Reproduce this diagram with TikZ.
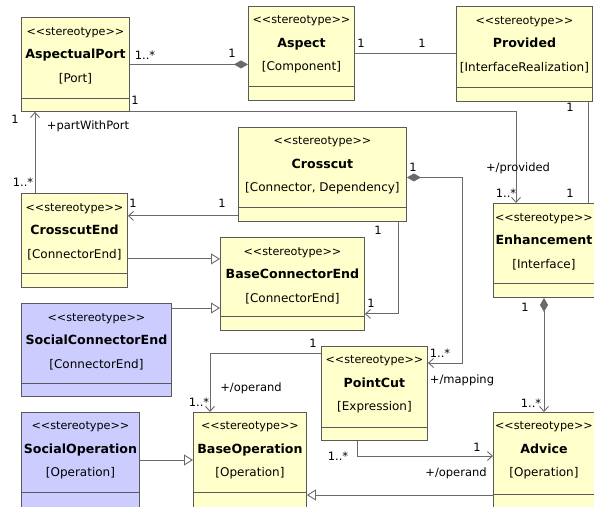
\documentclass[tikz,border=0pt]{standalone}
\usepackage{fontspec}
\setmainfont{DejaVu Sans}
\usetikzlibrary{arrows.meta}
\definecolor{clsyellow}{HTML}{FFFFCC}
\definecolor{clsblue}{HTML}{CCCCFF}
\definecolor{clsborder}{HTML}{5A5A5A}
\definecolor{linegray}{HTML}{6A6A6A}
\newcommand\stlabel{{\fontsize{11.2}{23.5}\selectfont\mbox{<}\mbox{<}stereotype\mbox{>}\mbox{>}}}
\newcommand\clsname[1]{{\fontsize{12.6}{23.5}\selectfont\bfseries #1}}

\begin{document}
\begin{tikzpicture}[x=1pt,y=-1pt,
  cls/.style={draw=clsborder,fill=clsyellow,line width=0.9pt,anchor=north west,inner sep=0pt},
  social/.style={cls,fill=clsblue},
  clstext/.style={align=center,inner sep=0pt,font=\fontsize{12}{23.5}\selectfont},
  sep/.style={draw=clsborder,line width=0.9pt},
  conn/.style={draw=linegray,line width=0.9pt},
  assoc/.style={conn,-{Straight Barb[length=5pt,width=9pt]}},
  gen/.style={conn,-{Triangle[length=9pt,width=11pt,fill=white]}},
  comp/.style={conn,{Diamond[length=14pt,width=8pt]}-},
  compassoc/.style={conn,{Diamond[length=14pt,width=8pt]}-{Straight Barb[length=5pt,width=9pt]}},
  lbl/.style={inner sep=0pt,font=\fontsize{11.5}{13}\selectfont}]
 \path[use as bounding box,clip] (0,0) rectangle (594,506);

 % classes
 \node[cls,minimum width=108,minimum height=94] (ap) at (21,17) {};
 \node[cls,minimum width=106,minimum height=94] (asp) at (248,6) {};
 \node[cls,minimum width=136,minimum height=95] (prov) at (456,6) {};
 \node[cls,minimum width=168,minimum height=94] (cc) at (238,127) {};
 \node[cls,minimum width=106,minimum height=94] (ce) at (21,193) {};
 \node[cls,minimum width=144,minimum height=93] (bce) at (220,237) {};
 \node[cls,minimum width=101,minimum height=94] (enh) at (493,203) {};
 \node[social,minimum width=150,minimum height=93] (sce) at (21,303) {};
 \node[cls,minimum width=106,minimum height=94] (pc) at (321,346) {};
 \node[cls,minimum width=113,minimum height=100] (bo) at (193,412) {};
 \node[social,minimum width=118,minimum height=100] (so) at (21,412) {};
 \node[cls,minimum width=101,minimum height=100] (adv) at (493,412) {};

 \draw[sep] ([yshift=-81]ap.north west) -- ([yshift=-81]ap.north east);
 \draw[sep] ([yshift=-80]asp.north west) -- ([yshift=-80]asp.north east);
 \draw[sep] ([yshift=-81]prov.north west) -- ([yshift=-81]prov.north east);
 \draw[sep] ([yshift=-80]cc.north west) -- ([yshift=-80]cc.north east);
 \draw[sep] ([yshift=-80]ce.north west) -- ([yshift=-80]ce.north east);
 \draw[sep] ([yshift=-79]bce.north west) -- ([yshift=-79]bce.north east);
 \draw[sep] ([yshift=-80]enh.north west) -- ([yshift=-80]enh.north east);
 \draw[sep] ([yshift=-80]sce.north west) -- ([yshift=-80]sce.north east);
 \draw[sep] ([yshift=-81]pc.north west) -- ([yshift=-81]pc.north east);
 \draw[sep] ([yshift=-80]bo.north west) -- ([yshift=-80]bo.north east);
 \draw[sep] ([yshift=-80]so.north west) -- ([yshift=-80]so.north east);
 \draw[sep] ([yshift=-82]adv.north west) -- ([yshift=-82]adv.north east);

 \node[clstext] (ap-t) at ([yshift=-38.5]ap.north) {\stlabel\\\clsname{AspectualPort}\\{[Port]}};
 \node[clstext] (asp-t) at ([yshift=-38.5]asp.north) {\stlabel\\\clsname{Aspect}\\{[Component]}};
 \node[clstext] (prov-t) at ([yshift=-38.5]prov.north) {\stlabel\\\clsname{Provided}\\{[InterfaceRealization]}};
 \node[clstext] (cc-t) at ([yshift=-38.5]cc.north) {\stlabel\\\clsname{Crosscut}\\{[Connector, Dependency]}};
 \node[clstext] (ce-t) at ([yshift=-38.5]ce.north) {\stlabel\\\clsname{CrosscutEnd}\\{[ConnectorEnd]}};
 \node[clstext] (bce-t) at ([yshift=-38.5]bce.north) {\stlabel\\\clsname{BaseConnectorEnd}\\{[ConnectorEnd]}};
 \node[clstext] (enh-t) at ([yshift=-38.5]enh.north) {\stlabel\\\clsname{Enhancement}\\{[Interface]}};
 \node[clstext] (sce-t) at ([yshift=-38.5]sce.north) {\stlabel\\\clsname{SocialConnectorEnd}\\{[ConnectorEnd]}};
 \node[clstext] (pc-t) at ([yshift=-38.5]pc.north) {\stlabel\\\clsname{PointCut}\\{[Expression]}};
 \node[clstext] (bo-t) at ([yshift=-38.5]bo.north) {\stlabel\\\clsname{BaseOperation}\\{[Operation]}};
 \node[clstext] (so-t) at ([yshift=-38.5]so.north) {\stlabel\\\clsname{SocialOperation}\\{[Operation]}};
 \node[clstext] (adv-t) at ([yshift=-38.5]adv.north) {\stlabel\\\clsname{Advice}\\{[Operation]}};

 % associations
 \draw[comp] (asp.west |- ap.east) -- (ap.east);
 \draw[conn] (asp.east) -- (prov.west |- asp.east);
 \draw[assoc] (ap.south east) -| ([xshift=23]enh.north west);
 \draw[conn] ([xshift=-4]prov.south east) coordinate (prov-enh) -- (prov-enh |- enh.north);
 \draw[assoc] ([xshift=14]ce.north west) coordinate (ce-ap) -- (ce-ap |- ap.south);
 \draw[assoc] ([yshift=6]cc.south west) coordinate (cc-ce) -- (cc-ce -| ce.east);
 \draw[assoc] ([xshift=-8]cc.south east) |- ([yshift=17]bce.south east);
 \draw[compassoc] ([yshift=-3]cc.east) -- ++(56,0) |- ([yshift=-17]pc.north east);
 \draw[assoc] ([yshift=-7]pc.north west) -| ([xshift=17]bo.north west);
 \draw[assoc] ([xshift=36]pc.south west) |- ([yshift=-44]adv.north west);
 \draw[compassoc] ([xshift=51]enh.south west) coordinate (enh-adv) -- (enh-adv |- adv.north);

 % generalizations
 \draw[gen] ([yshift=29]ce.south east) coordinate (ce-bce) -- (ce-bce -| bce.west);
 \draw[gen] ([yshift=-5]sce.north east) coordinate (sce-bce) -- (sce-bce -| bce.west);
 \draw[gen] ([yshift=-83]adv.north west) coordinate (adv-bo) -- (adv-bo -| bo.east);
 \draw[gen] ([yshift=-48]so.north east) coordinate (so-bo) -- (so-bo -| bo.west);

 % multiplicities and roles
 \node[lbl] (m-ap1) at (145,55) {1..*};
 \node[lbl] (m-asp1) at (232,53) {1};
 \node[lbl] (m-asp2) at (361,43) {1};
 \node[lbl] (m-prov1) at (422,43) {1};
 \node[lbl] (m-ap2) at (135,100) {1};
 \node[lbl] (r-prov) at (518,168) {+/provided};
 \node[lbl] (m-enh1) at (506,193) {1..*};
 \node[lbl] (m-prov2) at (570,107) {1};
 \node[lbl] (m-enh2) at (570,193) {1};
 \node[lbl] (m-ap3) at (15,119) {1};
 \node[lbl] (r-port) at (88,126) {+partWithPort};
 \node[lbl] (m-ce1) at (23,182) {1..*};
 \node[lbl] (m-ce2) at (133,203) {1};
 \node[lbl] (m-cc1) at (222,203) {1};
 \node[lbl] (m-cc2) at (378,230) {1};
 \node[lbl] (m-bce) at (371,303) {1};
 \node[lbl] (m-cc3) at (413,167) {1};
 \node[lbl] (m-pc1) at (440,353) {1..*};
 \node[lbl] (r-map) at (462,380) {+/mapping};
 \node[lbl] (m-pc2) at (313,343) {1};
 \node[lbl] (r-op1) at (251,388) {+/operand};
 \node[lbl] (m-bo) at (199,402) {1..*};
 \node[lbl] (m-pc3) at (338,456) {1..*};
 \node[lbl] (m-adv1) at (477,447) {1};
 \node[lbl] (r-op2) at (456,473) {+/operand};
 \node[lbl] (m-enh3) at (525,307) {1};
 \node[lbl] (m-adv2) at (531,403) {1..*};
\end{tikzpicture}
\end{document}
